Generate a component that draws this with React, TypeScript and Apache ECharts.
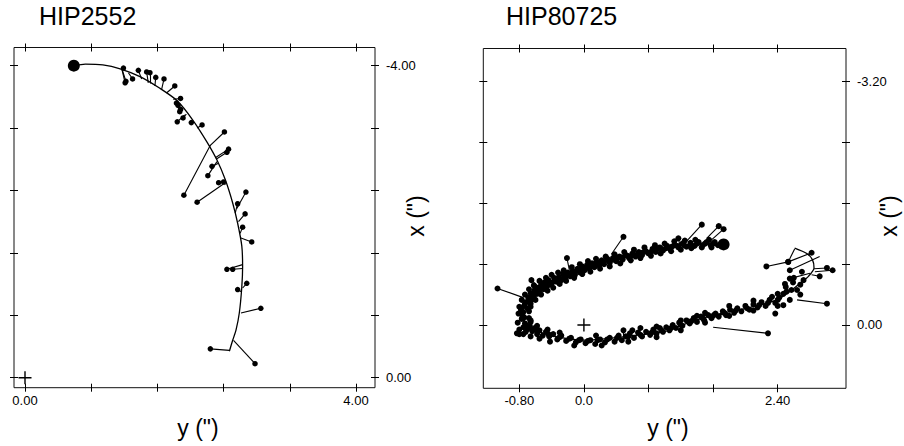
import React, { useEffect, useRef } from 'react';
import * as echarts from 'echarts';

const FONT = '"Liberation Sans", Arial, Helvetica, sans-serif';

// ---------------- HIP2552 (left panel) ----------------
const hip2552XRange = [-0.133, 4.23];
const hip2552YRange = [-4.233, 0.128];
const hip2552XTicks = [0, 0.8, 1.6, 2.4, 3.2, 4.0];
const hip2552XLabelValues = [0, 4];
const hip2552XLabelTexts = ['0.00', '4.00'];
const hip2552YTicks = [-4.0, -3.2, -2.4, -1.6, -0.8, 0];
const hip2552YLabelValues = [-4, 0];
const hip2552YLabelTexts = ['-4.00', '0.00'];

const hip2552Orbit = [
  [0.59, -4.0], [0.73, -4.02], [0.94, -4.01], [1.15, -3.96], [1.39, -3.86],
  [1.63, -3.71], [1.84, -3.55], [2.03, -3.3], [2.2, -3.02], [2.32, -2.79],
  [2.42, -2.54], [2.51, -2.24], [2.57, -1.98], [2.62, -1.69], [2.63, -1.42],
  [2.62, -1.16], [2.59, -0.83], [2.55, -0.61], [2.51, -0.48], [2.47, -0.34],
];
const hip2552Start = [[0.59, -4.0]];
const hip2552Obs = [
  [1.19, -3.97], [1.22, -3.8], [1.21, -3.78], [1.3, -3.83], [1.37, -3.94], [1.47, -3.92],
  [1.51, -3.91], [1.58, -3.85], [1.68, -3.83], [1.81, -3.74], [1.88, -3.58],
  [1.83, -3.52], [1.85, -3.49], [1.87, -3.41], [1.88, -3.44], [1.91, -3.33],
  [1.84, -3.28], [2.01, -3.27], [2.14, -3.24], [2.41, -3.15], [2.46, -2.93],
  [2.44, -2.89], [2.26, -2.71], [2.21, -2.59], [1.92, -2.34], [2.08, -2.25],
  [2.34, -2.5], [2.4, -2.51], [2.67, -2.38], [2.57, -2.23], [2.66, -2.1],
  [2.63, -1.93], [2.74, -1.74], [2.44, -1.39], [2.51, -1.39], [2.68, -1.21],
  [2.57, -1.13], [2.85, -0.89], [2.78, -0.18], [2.24, -0.37],
];
const hip2552Fit = [
  [1.16, -3.95], [1.17, -3.96], [1.17, -3.96], [1.25, -3.91], [1.41, -3.83], [1.49, -3.78],
  [1.51, -3.77], [1.57, -3.74], [1.65, -3.69], [1.71, -3.65], [1.79, -3.57],
  [1.85, -3.51], [1.86, -3.5], [1.91, -3.43], [1.9, -3.45], [1.95, -3.38],
  [1.93, -3.37], [2.01, -3.28], [2.08, -3.2], [2.23, -2.97], [2.3, -2.82],
  [2.31, -2.8], [2.34, -2.75], [2.32, -2.77], [2.24, -2.98], [2.42, -2.5],
  [2.41, -2.5], [2.42, -2.47], [2.56, -2.17], [2.54, -2.11], [2.58, -2.0],
  [2.6, -1.85], [2.61, -1.79], [2.63, -1.45], [2.63, -1.4], [2.63, -1.15],
  [2.62, -1.1], [2.61, -0.83], [2.52, -0.48], [2.47, -0.35],
];
const hip2552Origin = [[0, 0]];

// ---------------- HIP80725 (right panel) ----------------
const hip80725XRange = [-1.246, 3.246];
const hip80725YRange = [-3.637, 0.833];
const hip80725XTicks = [-0.8, 0, 0.8, 1.6, 2.4];
const hip80725XLabelValues = [-0.8, 0, 2.4];
const hip80725XLabelTexts = ['-0.80', '0.0', '2.40'];
const hip80725YTicks = [-3.2, -2.4, -1.6, -0.8, 0];
const hip80725YLabelValues = [-3.2, 0];
const hip80725YLabelTexts = ['-3.20', '0.00'];

const hip80725Orbit = [
  [1.73, -1.06], [1.44, -1.07], [1.19, -1.04], [1.02, -1.01], [0.78, -0.96],
  [0.53, -0.9], [0.28, -0.83], [0.03, -0.75], [-0.21, -0.64], [-0.46, -0.53],
  [-0.63, -0.42], [-0.71, -0.31], [-0.75, -0.18], [-0.73, -0.04], [-0.65, 0.04],
  [-0.5, 0.11], [-0.26, 0.17], [0.03, 0.2], [0.28, 0.18], [0.53, 0.15],
  [0.78, 0.12], [1.02, 0.08], [1.19, 0.01], [1.44, -0.08], [1.69, -0.15],
  [1.93, -0.2], [2.18, -0.26], [2.39, -0.33], [2.55, -0.44], [2.68, -0.55],
  [2.78, -0.64], [2.85, -0.75], [2.83, -0.86], [2.76, -0.94], [2.61, -1.01],
];
const hip80725Start = [[1.73, -1.06]];
const hip80725UpperObs = [
  [-0.78, -0.2], [-0.76, -0.12], [-0.74, -0.25], [-0.72, -0.3], [-0.7, -0.22], [-0.69, -0.36],
  [-0.66, -0.28], [-0.66, -0.42], [-0.64, -0.34], [-0.62, -0.38], [-0.61, -0.46], [-0.58, -0.41],
  [-0.57, -0.49], [-0.55, -0.44], [-0.53, -0.53], [-0.5, -0.47], [-0.49, -0.56], [-0.46, -0.5],
  [-0.44, -0.59], [-0.42, -0.53], [-0.39, -0.56], [-0.37, -0.62], [-0.34, -0.57], [-0.31, -0.63],
  [-0.28, -0.59], [-0.26, -0.67], [-0.23, -0.62], [-0.2, -0.69], [-0.17, -0.64], [-0.14, -0.71],
  [-0.11, -0.66], [-0.08, -0.74], [-0.05, -0.69], [-0.02, -0.77], [0.01, -0.72], [0.04, -0.79],
  [0.07, -0.74], [0.1, -0.81], [0.13, -0.76], [0.16, -0.83], [0.19, -0.78], [0.22, -0.85],
  [0.25, -0.8], [0.29, -0.87], [0.32, -0.82], [0.36, -0.88], [0.4, -0.84], [0.44, -0.9],
  [0.48, -0.86], [0.52, -0.92], [0.56, -0.88], [0.6, -0.94], [0.64, -0.9], [0.68, -0.96],
  [0.72, -0.92], [0.76, -0.98], [0.8, -0.94], [0.85, -1.0], [0.89, -0.96], [0.94, -1.02],
  [0.98, -0.98], [1.03, -1.04], [1.07, -1.0], [1.12, -1.05], [1.17, -1.02], [1.22, -1.07],
  [1.27, -1.03], [1.32, -1.08], [1.37, -1.04], [1.42, -1.09], [1.47, -1.05], [1.52, -1.09],
  [1.57, -1.05], [1.62, -1.09], [1.66, -1.05],
  [-0.75, -0.17], [-0.73, -0.28], [-0.68, -0.31], [-0.64, -0.4], [-0.59, -0.44], [-0.54, -0.49],
  [-0.48, -0.52], [-0.43, -0.55], [-0.36, -0.58], [-0.3, -0.61], [-0.24, -0.64], [-0.18, -0.67],
  [-0.12, -0.7], [-0.06, -0.72], [0.0, -0.75], [0.06, -0.77], [0.12, -0.79], [0.18, -0.81],
  [0.24, -0.83], [0.3, -0.85], [0.36, -0.86], [0.42, -0.88], [0.48, -0.89], [0.54, -0.91],
  [0.6, -0.92], [0.66, -0.93], [0.72, -0.95], [0.78, -0.96], [0.84, -0.97], [0.9, -0.99],
  [0.96, -1.0], [1.02, -1.01], [1.09, -1.03], [1.16, -1.04], [1.24, -1.05], [1.32, -1.06],
  [1.4, -1.07], [1.5, -1.07], [1.6, -1.07],
  [-0.81, -0.15], [-0.8, -0.24], [-0.77, -0.33], [-0.73, -0.4], [-0.68, -0.47], [-0.62, -0.52],
  [-0.55, -0.58], [-0.47, -0.62], [-0.4, -0.66], [-0.32, -0.69], [-0.25, -0.72], [-0.15, -0.76],
  [-0.05, -0.8], [0.05, -0.84], [0.15, -0.87], [0.27, -0.9], [0.38, -0.93], [0.5, -0.96],
  [0.62, -0.99], [0.75, -1.02], [0.88, -1.05], [1.0, -1.07], [1.12, -1.1], [1.25, -1.11],
  [1.38, -1.12], [1.55, -1.12],
  [-0.68, -0.18], [-0.66, -0.24], [-0.6, -0.33], [-0.53, -0.4], [-0.45, -0.45], [-0.38, -0.49],
  [-0.3, -0.54], [-0.22, -0.58], [-0.12, -0.62], [-0.02, -0.67], [0.08, -0.7], [0.2, -0.74],
  [0.32, -0.77], [0.45, -0.81], [0.58, -0.85], [0.7, -0.88], [0.83, -0.91], [0.95, -0.94],
  [1.08, -0.97], [1.2, -0.99], [1.33, -1.01], [1.46, -1.02], [1.58, -1.02],
];
const hip80725LowerObs = [
  [-0.77, -0.08], [-0.75, 0.03], [-0.73, -0.02], [-0.72, 0.09], [-0.7, 0.05], [-0.68, -0.09],
  [-0.67, 0.01], [-0.64, 0.08], [-0.61, 0.04], [-0.58, 0.12], [-0.55, 0.07], [-0.51, 0.14],
  [-0.47, 0.09], [-0.43, 0.15], [-0.38, 0.12], [-0.33, 0.19], [-0.28, 0.14], [-0.22, 0.21],
  [-0.16, 0.17], [-0.1, 0.23], [-0.04, 0.19], [0.02, 0.24], [0.08, 0.2], [0.14, 0.25],
  [0.2, 0.19], [0.26, 0.23], [0.32, 0.17], [0.38, 0.22], [0.43, 0.14], [0.47, 0.2],
  [0.52, 0.15], [0.57, 0.11], [0.62, 0.17], [0.67, 0.1], [0.72, 0.15], [0.77, 0.09],
  [0.82, 0.13], [0.86, 0.06], [0.9, 0.11], [0.94, 0.04], [0.98, 0.09], [1.02, 0.03],
  [1.06, 0.07], [1.1, 0.0], [1.14, 0.04], [1.18, -0.03], [1.22, 0.01], [1.27, -0.06],
  [1.31, -0.02], [1.36, -0.09], [1.4, -0.04], [1.45, -0.11], [1.49, -0.06], [1.54, -0.13],
  [1.58, -0.09], [1.63, -0.15], [1.67, -0.11], [1.72, -0.18], [1.76, -0.13], [1.81, -0.2],
  [1.86, -0.16], [1.9, -0.22], [1.95, -0.18], [2.0, -0.25], [2.05, -0.2], [2.1, -0.27],
  [2.15, -0.23], [2.2, -0.3], [2.25, -0.25], [2.3, -0.33], [2.33, -0.37], [2.37, -0.15],
  [2.37, -0.29], [2.42, -0.36], [2.47, -0.26], [2.47, -0.41], [2.49, -0.54], [2.51, -0.44],
  [2.57, -0.46], [2.59, -0.56], [2.64, -0.46], [2.68, -0.53], [2.68, -0.4], [2.72, -0.59],
  [-0.74, -0.1], [-0.72, 0.0], [-0.69, 0.04], [-0.66, -0.04], [-0.62, 0.06], [-0.57, 0.08],
  [-0.44, 0.12], [-0.3, 0.16], [-0.18, 0.18], [-0.06, 0.2], [0.05, 0.21], [0.17, 0.2],
  [0.29, 0.19], [0.41, 0.17], [0.55, 0.15], [0.7, 0.13], [0.84, 0.1], [0.96, 0.07],
  [1.08, 0.04], [1.2, 0.0], [1.33, -0.05], [1.47, -0.09], [1.61, -0.13], [1.74, -0.16],
  [1.88, -0.19], [2.02, -0.22], [2.17, -0.26], [2.28, -0.29], [2.4, -0.33],
  [-0.82, -0.03], [-0.8, 0.06], [-0.75, 0.12], [-0.66, 0.15], [-0.55, 0.18], [-0.42, 0.22],
  [-0.12, 0.27], [0.22, 0.27], [0.55, 0.22], [0.9, 0.16], [1.2, 0.07], [1.5, -0.03],
  [1.8, -0.12], [2.1, -0.19], [2.4, -0.25], [2.55, -0.33],
  [-0.66, -0.06], [-0.58, 0.01], [-0.45, 0.06], [-0.3, 0.1], [0.15, 0.14], [0.6, 0.07],
  [0.9, 0.02], [1.2, -0.06], [1.5, -0.16], [1.8, -0.25], [2.1, -0.32], [2.4, -0.41],
  [2.5, -0.5], [2.6, -0.62], [2.7, -0.7],
];
const hip80725ResidFrom = [
  [-1.07, -0.48], [0.49, -1.16], [-0.21, -0.88], [-0.83, 0.11], [0.7, 0.04],
  [1.46, -1.32], [1.67, -1.3], [1.73, -1.26], [2.26, -0.77], [2.53, -0.83],
  [2.53, -0.83], [2.55, -0.72], [3.01, -0.75], [3.08, -0.72], [2.55, -0.61],
  [3.01, -0.28], [2.28, 0.11], [2.92, -0.64], [0.49, 0.07], [-0.65, -0.59],
  [1.17, -1.14], [2.82, -0.95], [1.4, -0.12], [-0.8, 0.12],
];
const hip80725ResidTo = [
  [-0.75, -0.36], [0.34, -0.93], [-0.18, -0.72], [-0.63, 0.07], [0.63, 0.17],
  [1.27, -1.1], [1.52, -1.14], [1.58, -1.12], [2.53, -0.83], [2.61, -1.0],
  [2.82, -0.95], [2.92, -0.9], [2.85, -0.74], [2.86, -0.7], [2.8, -0.68],
  [2.64, -0.33], [1.6, 0.03], [2.82, -0.66], [0.49, 0.16], [-0.56, -0.5],
  [1.19, -1.04], [2.78, -0.92], [1.76, -0.14], [-0.7, 0.07],
];
const hip80725Origin = [[0, 0]];

const PLUS = 'path://M5.35,0H6.65V5.35H12V6.65H6.65V12H5.35V6.65H0V5.35H5.35Z';

function fmt(values: number[], texts: string[]) {
  return (v: number) => {
    const i = values.findIndex((t) => Math.abs(t - v) < 1e-6);
    return i >= 0 ? texts[i] : '';
  };
}

function xAxis(grid: number, pos: string, range: number[], ticks: number[], lv?: number[], lt?: string[]) {
  return {
    type: 'value', gridIndex: grid, position: pos, min: range[0], max: range[1], offset: -4,
    axisLine: { show: false, onZero: false },
    axisTick: { show: true, inside: false, length: 8, customValues: ticks, lineStyle: { color: '#000', width: 1 } },
    axisLabel: lv
      ? { show: true, customValues: lv, formatter: fmt(lv, lt || []), margin: 10, fontSize: 13, color: '#000', fontFamily: FONT }
      : { show: false },
    splitLine: { show: false },
  };
}

function yAxis(grid: number, pos: string, range: number[], ticks: number[], lv?: number[], lt?: string[]) {
  return {
    type: 'value', gridIndex: grid, position: pos, inverse: true, min: range[0], max: range[1], offset: -4,
    axisLine: { show: false, onZero: false },
    axisTick: { show: true, inside: false, length: 8, customValues: ticks, lineStyle: { color: '#000', width: 1 } },
    axisLabel: lv
      ? { show: true, customValues: lv, formatter: fmt(lv, lt || []), margin: 15, fontSize: 13, color: '#000', fontFamily: FONT }
      : { show: false },
    splitLine: { show: false },
  };
}

function panelSeries(xi: number, yi: number, orbit: number[][], dots: number[][], from: number[][], to: number[][], start: number[][], origin: number[][], dotSize: number) {
  return [
    {
      type: 'lines', coordinateSystem: 'cartesian2d', xAxisIndex: xi, yAxisIndex: yi, silent: true,
      lineStyle: { color: '#000', width: 1.1, opacity: 1 },
      data: from.map((p, i) => ({ coords: [p, to[i]] })),
    },
    {
      type: 'line', xAxisIndex: xi, yAxisIndex: yi, data: orbit, showSymbol: false, smooth: 0.25,
      lineStyle: { color: '#000', width: 1.3 }, silent: true,
    },
    {
      type: 'scatter', xAxisIndex: xi, yAxisIndex: yi, data: dots, symbol: 'circle', symbolSize: dotSize,
      itemStyle: { color: '#000', opacity: 1 }, silent: true,
    },
    {
      type: 'scatter', xAxisIndex: xi, yAxisIndex: yi, data: start, symbol: 'circle', symbolSize: 12,
      itemStyle: { color: '#000', opacity: 1 }, silent: true,
    },
    {
      type: 'scatter', xAxisIndex: xi, yAxisIndex: yi, data: origin, symbol: PLUS, symbolSize: 13,
      itemStyle: { color: '#000', opacity: 1 }, silent: true,
    },
  ];
}

export default function App() {
  const ref = useRef<HTMLDivElement>(null);
  useEffect(() => {
    if (!ref.current) return;
    const chart = echarts.init(ref.current, undefined, { renderer: 'svg' });
    const rightDots = hip80725UpperObs.concat(hip80725LowerObs, hip80725ResidFrom);
    const option = {
      animation: false,
      backgroundColor: '#fff',
      grid: [
        { left: 14, top: 47.5, width: 361, height: 340.2, show: true, borderColor: '#111', borderWidth: 1, backgroundColor: 'transparent' },
        { left: 483.3, top: 48.5, width: 362.7, height: 339.8, show: true, borderColor: '#111', borderWidth: 1, backgroundColor: 'transparent' },
      ],
      xAxis: [
        xAxis(0, 'bottom', hip2552XRange, hip2552XTicks, hip2552XLabelValues, hip2552XLabelTexts),
        xAxis(0, 'top', hip2552XRange, hip2552XTicks),
        xAxis(1, 'bottom', hip80725XRange, hip80725XTicks, hip80725XLabelValues, hip80725XLabelTexts),
        xAxis(1, 'top', hip80725XRange, hip80725XTicks),
      ],
      yAxis: [
        yAxis(0, 'left', hip2552YRange, hip2552YTicks),
        yAxis(0, 'right', hip2552YRange, hip2552YTicks, hip2552YLabelValues, hip2552YLabelTexts),
        yAxis(1, 'left', hip80725YRange, hip80725YTicks),
        yAxis(1, 'right', hip80725YRange, hip80725YTicks, hip80725YLabelValues, hip80725YLabelTexts),
      ],
      series: [
        ...panelSeries(0, 0, hip2552Orbit, hip2552Obs, hip2552Obs, hip2552Fit, hip2552Start, hip2552Origin, 5.5),
        ...panelSeries(2, 2, hip80725Orbit, rightDots, hip80725ResidFrom, hip80725ResidTo, hip80725Start, hip80725Origin, 6),
      ],
      graphic: [
        { type: 'text', x: 39, y: 16, style: { text: 'HIP2552', fontSize: 25, fontFamily: FONT, fill: '#000', align: 'left', verticalAlign: 'middle' } },
        { type: 'text', x: 506, y: 16, style: { text: 'HIP80725', fontSize: 25, fontFamily: FONT, fill: '#000', align: 'left', verticalAlign: 'middle' } },
        { type: 'text', x: 198, y: 428, style: { text: 'y (")', fontSize: 23, fontFamily: FONT, fill: '#000', align: 'center', verticalAlign: 'middle' } },
        { type: 'text', x: 668, y: 428, style: { text: 'y (")', fontSize: 23, fontFamily: FONT, fill: '#000', align: 'center', verticalAlign: 'middle' } },
        { type: 'text', x: 416, y: 216, rotation: Math.PI / 2, style: { text: 'x (")', fontSize: 23, fontFamily: FONT, fill: '#000', align: 'center', verticalAlign: 'middle' } },
        { type: 'text', x: 889, y: 216, rotation: Math.PI / 2, style: { text: 'x (")', fontSize: 23, fontFamily: FONT, fill: '#000', align: 'center', verticalAlign: 'middle' } },
      ],
    };
    chart.setOption(option as any);
    return () => chart.dispose();
  }, []);
  return <div ref={ref} style={{ position: 'fixed', left: 0, top: 0, width: 904, height: 446, background: '#fff' }} />;
}
